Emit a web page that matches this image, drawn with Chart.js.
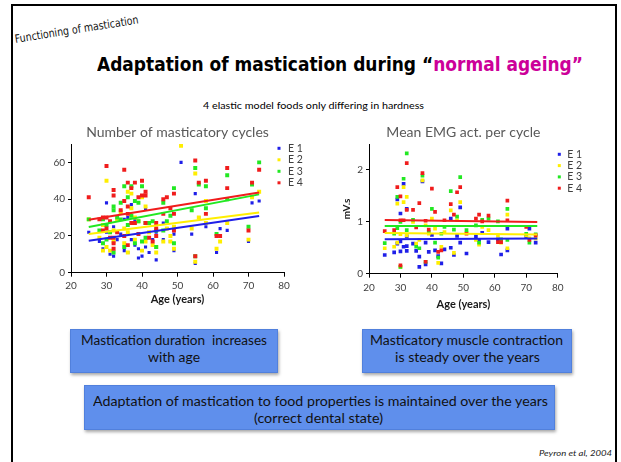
<!DOCTYPE html>
<html><head><meta charset="utf-8">
<script src="https://cdn.jsdelivr.net/npm/chart.js@4.4.0/dist/chart.umd.min.js"></script>
<style>
html,body{margin:0;padding:0;background:#fff;}
body{width:621px;height:462px;position:relative;overflow:hidden;font-family:Lato,"Open Sans",sans-serif;}
.frame{position:absolute;left:11px;top:4px;width:606px;height:480px;border:2px solid #000;border-bottom:none;box-sizing:border-box;}
.t{position:absolute;left:0;top:0;white-space:nowrap;line-height:1;transform-origin:0 50%;color:#111;}
.box{position:absolute;background:#5f8fec;border:1px solid #5180dc;box-shadow:1px 2px 3px rgba(0,0,0,0.35);box-sizing:border-box;}
canvas{position:absolute;}
</style></head><body>
<div class="frame"></div>
<div class="t" id="fn" data-rot="-9" data-x="15" data-y="40" data-w="125" style="font-family:'DejaVu Sans';font-size:11.5px;">Functioning of mastication</div>
<div class="t" data-cx="340" data-cy="64" data-w="486" style="font-family:'DejaVu Sans';font-weight:bold;font-size:19px;color:#000;">Adaptation of mastication during “<span style="color:#cc0099">normal ageing”</span></div>
<div class="t" data-cx="313" data-cy="105" data-w="221" style="font-size:10px;color:#000;">4 elastic model foods only differing in hardness</div>

<div class="box" style="left:70px;top:329px;width:208px;height:44px;"></div>
<div class="box" style="left:362px;top:329px;width:210px;height:44px;"></div>
<div class="box" style="left:84px;top:385px;width:471px;height:45px;"></div>
<div class="t" data-cx="174" data-cy="341" data-w="186" style="font-size:13.5px;">Mastication duration&nbsp; increases</div>
<div class="t" data-cx="174" data-cy="358" data-w="52" style="font-size:13.5px;">with age</div>
<div class="t" data-cx="466" data-cy="341" data-w="193" style="font-size:13.5px;">Masticatory muscle contraction</div>
<div class="t" data-cx="467" data-cy="358" data-w="145" style="font-size:13.5px;">is steady over the years</div>
<div class="t" data-cx="320" data-cy="402" data-w="455" style="font-size:13.5px;">Adaptation of mastication to food properties is maintained over the years</div>
<div class="t" data-cx="318" data-cy="419" data-w="129" style="font-size:13.5px;">(correct dental state)</div>
<div class="t" data-cx="575.5" data-cy="453" data-w="73" style="font-size:8px;font-style:italic;color:#222;">Peyron et al, 2004</div>

<canvas id="c1" width="280" height="200" style="left:40px;top:120px;"></canvas>
<canvas id="c2" width="290" height="200" style="left:320px;top:120px;"></canvas>

<script>
// ---------- data ----------
const seriesLabels = ['E 1', 'E 2', 'E 3', 'E 4'];
const xTicks = [20, 30, 40, 50, 60, 70, 80];
const cyclesYTicks = [0, 20, 40, 60];
const emgYTicks = [0, 1, 2];

// Number of masticatory cycles: [age, cycles]
const cyclesE1 = [[25,22],[28,17],[29,13],[30,38],[30,22],[31,10],[32,25],[32,9],[33,18],[34,21],[35,29],[35,12],[36,30],[36,11],[37,37],[37,18],[38,15],[38,29],[39,8],[39,13],[40,9],[40,41],[41,35],[41,14],[42,11],[43,18],[44,7],[44,22],[46,27],[46,18],[47,24],[48,17],[49,21],[49,12],[51,60],[54,21],[55,43],[55,5],[56,30],[58,25],[61,11],[62,24],[64,23],[70,17],[71,38],[73,39]];
const cyclesE2 = [[25,29],[28,19],[29,12],[29,26],[30,50],[30,14],[31,12],[32,23],[32,17],[33,29],[34,33],[35,24],[35,16],[36,44],[36,22],[36,11],[37,43],[37,35],[38,30],[38,18],[39,28],[40,41],[40,12],[41,36],[41,17],[42,22],[43,15],[44,14],[44,11],[46,17],[47,24],[48,20],[48,17],[49,25],[49,13],[51,69],[54,24],[55,54],[55,6],[56,30],[58,39],[58,27],[61,13],[62,17],[64,27],[70,18],[71,41],[73,44]];
const cyclesE3 = [[25,29],[28,23],[29,16],[29,29],[30,26],[30,18],[31,22],[32,36],[32,34],[32,11],[33,30],[34,38],[34,29],[35,47],[35,14],[36,41],[36,26],[37,47],[37,31],[38,39],[38,16],[39,38],[39,28],[40,47],[40,17],[41,27],[41,19],[42,27],[43,28],[44,23],[44,14],[46,38],[46,23],[47,28],[48,31],[49,46],[49,16],[54,34],[55,57],[55,9],[56,48],[58,47],[58,35],[61,21],[64,53],[64,40],[70,25],[71,48],[73,60]];
const cyclesE4 = [[25,41],[28,29],[29,30],[29,23],[30,58],[30,30],[30,24],[31,19],[31,28],[32,45],[32,42],[32,19],[32,16],[32,13],[33,22],[34,34],[35,56],[35,39],[35,20],[36,49],[36,36],[36,32],[36,15],[37,46],[37,27],[38,49],[38,27],[39,41],[39,21],[40,50],[40,42],[41,44],[41,42],[41,27],[42,19],[43,17],[44,27],[44,24],[44,20],[46,40],[46,32],[47,41],[48,35],[49,43],[49,32],[49,23],[55,61],[55,9],[56,49],[58,50],[58,32],[61,20],[62,20],[64,57],[64,46],[70,23],[71,49],[73,56]];
// regression lines: [age, value] at both ends
const cyclesFitE1 = [[25,17.4],[73,30.8]];
const cyclesFitE2 = [[25,21.1],[73,32.7]];
const cyclesFitE3 = [[25,24.8],[73,42.6]];
const cyclesFitE4 = [[25,28.8],[73,43.6]];

// Mean EMG activity per cycle: [age, mV.s]
const emgE1 = [[25,0.36],[28,0.41],[29,0.58],[29,1.43],[30,0.43],[30,1.16],[30,0.62],[31,1.73],[31,0.52],[32,1.25],[32,0.53],[32,0.44],[32,0.72],[34,0.58],[35,0.44],[36,0.33],[36,0.13],[37,1.78],[38,0.6],[38,0.18],[39,0.42],[40,0.75],[41,0.45],[42,0.34],[43,0.2],[44,0.47],[46,0.5],[46,1.06],[47,0.36],[48,0.73],[49,0.6],[49,1.28],[51,0.39],[54,0.72],[55,0.65],[56,0.79],[58,0.61],[61,0.66],[62,0.37],[64,0.45],[64,0.87],[70,0.71],[71,0.87],[73,0.6]];
const emgE2 = [[25,0.49],[28,0.52],[29,1.35],[29,0.6],[30,0.76],[30,0.13],[31,1.67],[31,1.38],[32,0.74],[32,1.48],[34,1.0],[35,0.58],[36,0.65],[37,1.8],[38,0.93],[39,0.77],[40,1.06],[41,0.87],[42,0.21],[43,0.52],[44,0.8],[46,1.22],[47,0.4],[48,1.03],[49,1.38],[51,0.79],[54,0.65],[55,0.56],[56,0.9],[58,0.84],[61,0.74],[62,0.6],[64,1.14],[64,0.49],[70,0.74],[71,0.68],[73,0.68]];
const emgE3 = [[25,0.59],[28,0.77],[29,1.48],[29,0.88],[30,0.13],[30,1.0],[31,1.83],[32,2.32],[32,0.84],[34,1.04],[35,0.52],[36,0.49],[37,1.89],[38,0.23],[39,0.8],[40,1.25],[41,0.6],[42,0.31],[43,0.77],[44,0.9],[46,1.59],[47,0.85],[48,1.1],[49,1.86],[51,0.84],[54,0.93],[55,0.6],[56,1.04],[58,1.06],[61,1.01],[62,0.66],[64,1.25],[64,0.65],[70,0.77],[71,0.6],[73,0.76]];
const emgE4 = [[25,0.82],[28,0.84],[29,1.67],[30,1.49],[30,1.03],[30,0.16],[31,1.03],[32,2.13],[32,1.23],[34,1.23],[35,0.89],[36,1.36],[37,1.94],[38,1.02],[38,0.23],[39,0.85],[40,1.64],[41,1.19],[42,0.42],[43,0.45],[44,1.03],[46,1.34],[47,1.14],[48,1.57],[49,1.67],[51,0.77],[54,1.06],[55,1.14],[56,1.01],[58,1.12],[61,0.61],[62,0.61],[64,1.41],[64,1.03],[70,0.9],[71,0.65],[73,0.74]];
const emgFitE1 = [[25,0.665],[73.5,0.678]];
const emgFitE2 = [[25,0.785],[73.5,0.755]];
const emgFitE3 = [[25,0.92],[73.5,0.92]];
const emgFitE4 = [[25,1.035],[73.5,0.995]];

// ---------- text placement ----------
document.querySelectorAll('.t').forEach(el => {
  const r = el.getBoundingClientRect();
  const w = +el.dataset.w, s = w / r.width;
  if (el.dataset.rot) {
    el.style.left = el.dataset.x + 'px';
    el.style.top = (+el.dataset.y - r.height / 2) + 'px';
    el.style.transform = 'rotate(' + el.dataset.rot + 'deg) scaleX(' + s + ')';
  } else {
    el.style.left = (+el.dataset.cx - w / 2) + 'px';
    el.style.top = (+el.dataset.cy - r.height / 2) + 'px';
    el.style.transform = 'scaleX(' + s + ')';
  }
});

// ---------- charts ----------
const colors = ['#1f1fe8', '#ffee00', '#22e822', '#f01c1c'];
const FONT = 'Lato';

const sideLegend = {
  id: 'sideLegend',
  afterDraw(chart, args, o) {
    const ctx = chart.ctx, a = chart.chartArea;
    ctx.save();
    ctx.font = '10.5px ' + FONT;
    ctx.textBaseline = 'middle';
    seriesLabels.forEach((lab, i) => {
      const y = a.top + o.y0 + i * o.dy;
      ctx.fillStyle = colors[i];
      ctx.fillRect(a.right + o.dotDx - 1.5, y - 1.5, 3, 3);
      ctx.fillStyle = '#404040';
      ctx.fillText(lab, a.right + o.textDx, y);
    });
    ctx.restore();
  }
};

function toXY(arr) { return arr.map(p => ({x: p[0], y: p[1]})); }

function makeChart(id, series, fits, yTicks, yMax, L) {
  const datasets = [];
  fits.forEach((f, i) => datasets.push({
    type: 'line', data: toXY(f), borderColor: colors[i], borderWidth: 2,
    pointRadius: 0, fill: false, order: 3 - i
  }));
  series.forEach((s, i) => datasets.push({
    type: 'scatter', label: seriesLabels[i], data: toXY(s),
    backgroundColor: colors[i], borderColor: colors[i], borderWidth: 0,
    pointStyle: 'rect', pointRadius: L.radius[i], order: 10 - i
  }));
  return new Chart(document.getElementById(id), {
    type: 'scatter',
    data: {datasets},
    plugins: [sideLegend],
    options: {
      responsive: false, animation: false, devicePixelRatio: 1,
      layout: {padding: L.padding},
      plugins: {
        legend: {display: false}, tooltip: {enabled: false},
        title: {display: true, text: L.title, fullSize: false, color: '#595959',
                font: {family: FONT, size: 14, weight: 'normal', lineHeight: 1.2}, padding: {top: 4.2, bottom: 3}},
        sideLegend: L.legend
      },
      scales: {
        x: {
          type: 'linear', min: 20, max: 80,
          afterBuildTicks: s => { s.ticks = xTicks.map(v => ({value: v})); },
          afterFit: s => { s.height = L.xH; },
          grid: {drawOnChartArea: false, drawTicks: true, tickLength: 4, color: '#000'},
          border: {display: true, color: '#000', width: 1},
          ticks: {font: {family: FONT, size: 10}, color: '#404040', padding: L.xPad, maxRotation: 0, autoSkip: false},
          title: {display: true, text: 'Age (years)', color: '#1a1a1a',
                  font: {family: FONT, size: 11, weight: 'bold'}, padding: {top: 0, bottom: 0}}
        },
        y: {
          type: 'linear', min: 0, max: yMax,
          afterBuildTicks: s => { s.ticks = yTicks.map(v => ({value: v})); },
          afterFit: s => { s.width = L.yW; },
          grid: {drawOnChartArea: false, drawTicks: true, tickLength: 3, color: '#000'},
          border: {display: true, color: '#000', width: 1},
          ticks: {font: {family: FONT, size: 10}, color: '#404040', padding: 3},
          title: L.yTitle
        }
      }
    }
  });
}

makeChart('c1', [cyclesE1, cyclesE2, cyclesE3, cyclesE4],
  [cyclesFitE1, cyclesFitE2, cyclesFitE3, cyclesFitE4], cyclesYTicks, 70, {
    title: 'Number of masticatory cycles',
    padding: {left: 0, top: 0, right: 36, bottom: 14.4},
    xH: 32.9, yW: 31, xPad: 3,
    radius: [2.2, 2.8, 2.8, 2.8],
    legend: {y0: 4.3, dy: 11.5, dotDx: -5, textDx: 4},
    yTitle: {display: false}
  });

makeChart('c2', [emgE1, emgE2, emgE3, emgE4],
  [emgFitE1, emgFitE2, emgFitE3, emgFitE4], emgYTicks, 2.5, {
    title: 'Mean EMG act. per cycle',
    padding: {left: 0, top: 0, right: 52.3, bottom: 9.4},
    xH: 36.9, yW: 49, xPad: 4,
    radius: [2.6, 2.6, 2.6, 2.6],
    legend: {y0: 10.3, dy: 11.3, dotDx: 1.6, textDx: 9.6},
    yTitle: {display: true, text: 'mV.s', color: '#1a1a1a',
             font: {family: FONT, size: 10, weight: 'bold'}, padding: {top: 21, bottom: 0}}
  });
</script>
</body></html>
